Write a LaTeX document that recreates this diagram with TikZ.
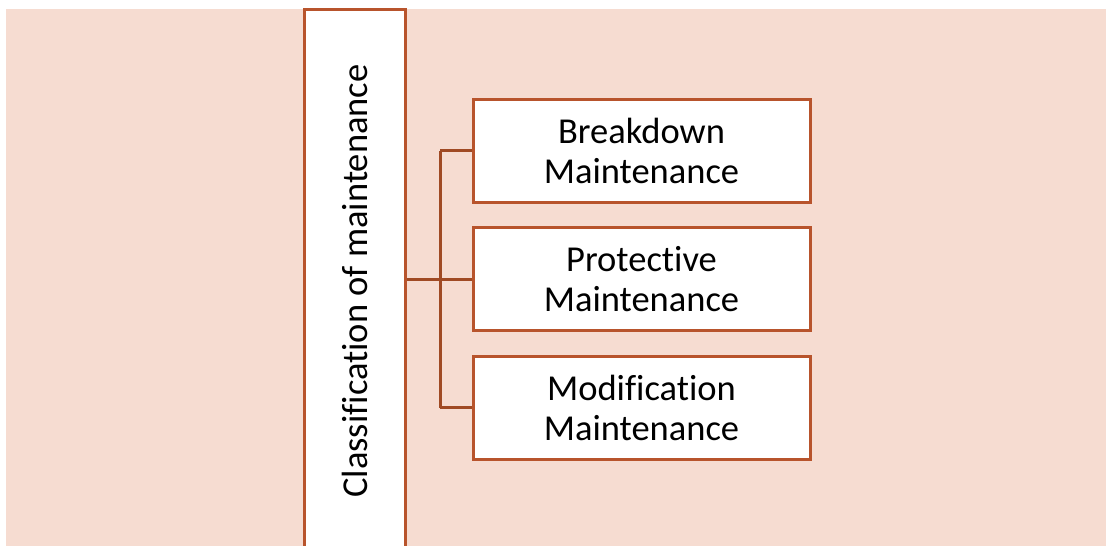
\documentclass[tikz,border=0pt]{standalone}
\usepackage{fontspec}
\setmainfont{Carlito}[Ligatures={NoCommon}]
\definecolor{peach}{RGB}{246,220,209}
\definecolor{boxline}{RGB}{184,84,44}
\definecolor{linkline}{RGB}{160,74,36}
\tikzset{
  itembox/.style={draw=boxline, line width=3pt, fill=white, minimum width=337pt,
    minimum height=103pt, inner sep=0pt, align=center,
    font=\fontsize{36.5pt}{40pt}\selectfont},
  rootbox/.style={draw=boxline, line width=3pt, fill=white, minimum width=100.5pt,
    minimum height=543pt, inner sep=0pt},
  rootlabel/.style={rotate=90, inner sep=0pt, font=\fontsize{36.5pt}{40pt}\selectfont},
  link/.style={draw=linkline, line width=3pt}
}
\begin{document}
\begin{tikzpicture}[x=1pt, y=-1pt]
  \clip (0,0) rectangle (1106,546);
  \fill[peach] (6,9) rectangle (1106,546);

  % root column, open at the bottom of the page
  \node[rootbox] (main) at (354.75,281) {};
  \node[rootlabel] (mainlabel) at (main.center) {Classification of maintenance};

  % the three kinds
  \node[itembox] (b1) at (641.5,150.5) {Breakdown\\Maintenance};
  \node[itembox] (b2) at (641.5,279) {Protective\\Maintenance};
  \node[itembox] (b3) at (641.5,407.5) {Modification\\Maintenance};

  % branching connector
  \coordinate (j) at (440,279);
  \draw[link] (main.east |- b2.west) -- (b2.west);
  \draw[link] (j |- b1.west) -- (j |- b3.west);
  \draw[link] (j |- b1.west) -- (b1.west);
  \draw[link] (j |- b3.west) -- (b3.west);
\end{tikzpicture}
\end{document}
